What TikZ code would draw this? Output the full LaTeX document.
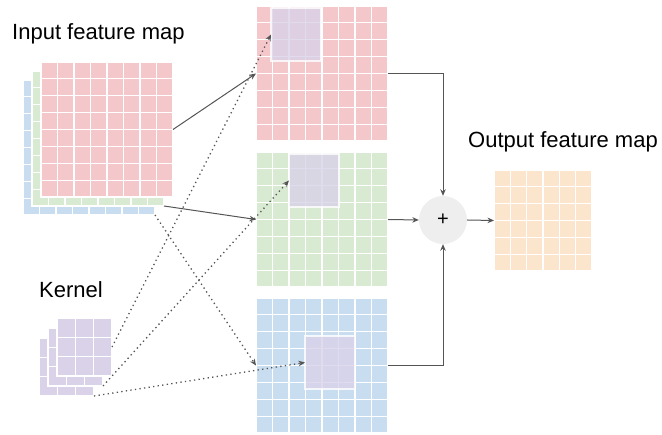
\documentclass[tikz,border=0pt]{standalone}
\usepackage{fontspec}
\setmainfont{Liberation Sans}
\usetikzlibrary{positioning, calc, arrows.meta}

\definecolor{mapred}{RGB}{244,199,203}
\definecolor{mapgreen}{RGB}{217,234,211}
\definecolor{mapblue}{RGB}{201,221,240}
\definecolor{mapyellow}{RGB}{252,229,205}
\definecolor{kpurple}{RGB}{217,210,233}
\definecolor{sumgray}{RGB}{238,238,238}
\definecolor{arrowgray}{RGB}{85,85,85}

\tikzset{
	fmap/.style={rectangle, draw=white, line width=1.2pt, inner sep=0pt, outer sep=0pt},
	cells/.style={path picture={
		\foreach \k in {1,...,#1} {
			\draw[white, line width=1.2pt]
				($(path picture bounding box.north west)!\k/#1!(path picture bounding box.north east)$) --
				($(path picture bounding box.south west)!\k/#1!(path picture bounding box.south east)$);
			\draw[white, line width=1.2pt]
				($(path picture bounding box.north west)!\k/#1!(path picture bounding box.south west)$) --
				($(path picture bounding box.north east)!\k/#1!(path picture bounding box.south east)$);
		}}},
	bigmap/.style={fmap, cells=8, minimum width=132pt, minimum height=135pt},
	kern/.style={fmap, cells=3, fill=kpurple, minimum width=55pt, minimum height=58pt},
	patch/.style={rectangle, draw=white, draw opacity=0.8, line width=2pt, fill=kpurple, fill opacity=0.8,
		minimum width=50pt, minimum height=53pt, inner sep=0pt, outer sep=0pt},
	conn/.style={draw=arrowgray, line width=1pt, -{Stealth[length=6.5pt,width=5.5pt]}},
	dots/.style={conn, line width=1.3pt, dash pattern=on 1.3pt off 3.3pt},
	title/.style={anchor=base west, inner sep=0pt, font=\fontsize{22}{26}\selectfont},
	sum/.style={circle, fill=sumgray, minimum size=48pt, inner sep=0pt, font=\fontsize{20}{20}\selectfont}
}

\begin{document}
\begin{tikzpicture}[x=1pt, y=-1pt]
	\useasboundingbox (0,0) rectangle (662,435);

	\node[title] (t-in) at (12,40) {Input feature map};
	\node[title] (t-kern) at (39,298) {Kernel};
	\node[title] (t-out) at (468,148) {Output feature map};

	% input stack, back layer first
	\node[bigmap, fill=mapblue] (in3) at (89,147.5) {};
	\node[bigmap, fill=mapgreen] (in2) at (98,138.5) {};
	\node[bigmap, fill=mapred] (in1) at (107,129.5) {};

	% kernel stack
	\node[kern] (k3) at (66.5,367) {};
	\node[kern] (k2) at (75.5,357) {};
	\node[kern] (k1) at (84.5,347) {};

	% one map per channel
	\node[bigmap, fill=mapred] (ch1) at (322,73.5) {};
	\node[bigmap, fill=mapgreen, below = 11pt of ch1] (ch2) {};
	\node[bigmap, fill=mapblue, below = 11pt of ch2] (ch3) {};

	\node[patch, below right = 2pt and 15pt of ch1.north west] (p1) {};
	\node[patch, below right = 2pt and 33pt of ch2.north west] (p2) {};
	\node[patch, below right = 38pt and 49pt of ch3.north west] (p3) {};

	\node[sum] (plus) at (443,220) {+};
	\node[fmap, cells=6, fill=mapyellow, minimum width=98pt, minimum height=101pt] (out) at (543,220.5) {};

	\draw[conn] (in1.east) -- (ch1.west);
	\draw[conn] (in2.south east) -- (ch2.west);
	\draw[dots] (in3.south east) -- (ch3.west);

	\draw[dots] (k1.east) -- (p1.west);
	\draw[dots] (k2.south east) -- (p2.west);
	\draw[dots] (k3.south east) -- (p3.west);

	\draw[conn] (ch1.east) -| (plus.north);
	\draw[conn] (ch2.east) -- (plus.west);
	\draw[conn] (ch3.east) -| (plus.south);
	\draw[conn] (plus.east) -- (out.west);
\end{tikzpicture}
\end{document}
